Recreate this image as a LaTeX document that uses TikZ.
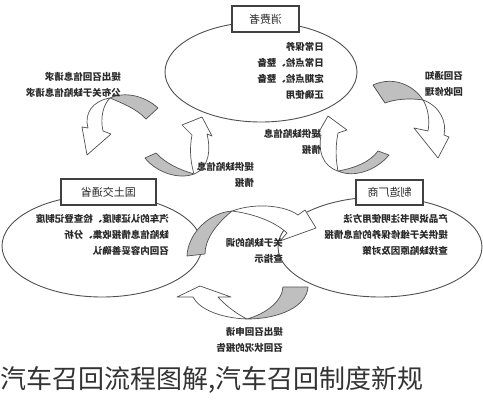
\documentclass[tikz,border=0pt]{standalone}
\usepackage{fontspec}
\newfontfamily\cjk{Noto Sans CJK SC}
\usetikzlibrary{shapes.geometric}
\definecolor{ln}{HTML}{505050}
\definecolor{bx}{HTML}{404040}
\definecolor{gf}{HTML}{BFBFBF}
\definecolor{tx}{HTML}{2A2A2A}
\definecolor{cp}{HTML}{333333}
\begin{document}
\begin{tikzpicture}[x=1pt,y=-1pt,
  every node/.style={inner sep=0pt},
  ell/.style={ellipse, draw=ln, line width=0.9pt, fill=white},
  box/.style={draw=bx, line width=1.1pt, fill=white, font=\cjk\fontsize{11}{13}\selectfont, text=tx},
  txt/.style={font=\cjk\bfseries\fontsize{9.5}{16}\selectfont, text=tx},
  back/.style={fill=gf, draw=ln, line width=0.7pt, line join=round},
  front/.style={fill=white, draw=ln, line width=0.7pt, line join=round}]
\fill[white] (0,0) rectangle (483,400);
\useasboundingbox (0,0) rectangle (483,400);

% ellipses
\node[ell, minimum width=192pt, minimum height=100pt] (ce) at (261,72) {};
\node[ell, minimum width=200pt, minimum height=102pt] (le) at (102,246) {};
\node[ell, minimum width=204pt, minimum height=100pt] (re) at (380,247) {};

% boxes
\node[box, minimum width=67pt, minimum height=26pt] (cb) at (265.5,19) {\reflectbox{消费者}};
\node[box, minimum width=95pt, minimum height=26pt] (lb) at (108.5,192) {\reflectbox{国土交通省}};
\node[box, minimum width=67pt, minimum height=25pt] (rb) at (389.5,192.5) {\reflectbox{制造厂商}};

% arrow 1 (left top)
\draw[back] (110,98) .. controls (125,91) and (145,96) .. (158,108) -- (146,119) .. controls (137,109) and (122,103) .. (110,98) -- cycle;
\draw[front] (110,98) .. controls (92,101) and (84,114) .. (88,128) -- (82,127) -- (87,155) -- (111,134) -- (103,131) .. controls (100,118) and (103,105) .. (110,98) -- cycle;
% arrow 2 (left middle)
\draw[back] (194,174) .. controls (178,180) and (156,172) .. (145,158) -- (156,153) .. controls (165,163) and (180,170) .. (194,174) -- cycle;
\draw[front] (194,174) .. controls (209,168) and (211,150) .. (207,134) -- (212,136) -- (202,117) -- (182,125) -- (192,135) .. controls (189,150) and (191,164) .. (194,174) -- cycle;
% arrow 3 (right top)
\draw[back] (373,85) .. controls (395,75) and (415,87) .. (423,100) .. controls (410,98) and (395,99) .. (385,103) -- cycle;
\draw[front] (423,100) .. controls (440,106) and (447,122) .. (444,135) -- (449,137) -- (438,158) -- (414,128) -- (428,131) .. controls (430,120) and (428,108) .. (423,100) -- cycle;
% arrow 4 (right middle)
\draw[back] (338,171) .. controls (353,178) and (376,171) .. (389,155) -- (378,151) .. controls (370,162) and (355,168) .. (338,171) -- cycle;
\draw[front] (338,171) .. controls (322,166) and (318,150) .. (321,135) -- (316,137) -- (328,116) -- (347,130) -- (338,133) .. controls (335,148) and (336,161) .. (338,171) -- cycle;
% arrow 5 (centre)
\draw[back] (187,256) .. controls (188,234) and (208,213) .. (232,211) .. controls (215,225) and (205,240) .. (205,254) -- cycle;
\draw[front] (232,211) .. controls (257,202) and (286,206) .. (298,215) -- (305,210) -- (316,228) -- (280,241) -- (287,233) .. controls (275,222) and (255,214) .. (232,211) -- cycle;
% arrow 6 (bottom)
\draw[back] (308,287) .. controls (307,306) and (280,319) .. (247,319) .. controls (265,314) and (282,302) .. (283,287) -- cycle;
\draw[front] (247,319) .. controls (220,318) and (199,309) .. (193,297) -- (177,297) -- (200,286) -- (231,297) -- (218,297) .. controls (224,304) and (235,313) .. (247,319) -- cycle;

% texts
\node[txt, anchor=east] (t1) at (324,71.5) {\reflectbox{\begin{tabular}{@{}l@{}}日常保养\\日常点检、整备\\定期点检、整备\\正确使用\end{tabular}}};
\node[txt, anchor=east] (t2) at (121,85) {\reflectbox{\begin{tabular}{@{}l@{}}提出召回信息请求\\公布关于缺陷信息请求\end{tabular}}};
\node[txt, anchor=east] (t3) at (463,84.5) {\reflectbox{\begin{tabular}{@{}l@{}}召回通知\\回收修理\end{tabular}}};
\node[txt, anchor=east] (t4) at (321,142.5) {\reflectbox{\begin{tabular}{@{}l@{}}提供缺陷信息\\情报\end{tabular}}};
\node[txt, anchor=east] (t5) at (254,175) {\reflectbox{\begin{tabular}{@{}l@{}}提供缺陷信息\\情报\end{tabular}}};
\node[txt, anchor=east] (t6) at (169,235.5) {\reflectbox{\begin{tabular}{@{}l@{}}汽车的认证制度、检查登记制度\\缺陷信息情报收集、分析\\召回内容妥善确认\end{tabular}}};
\node[txt, anchor=east] (t7) at (448,235.5) {\reflectbox{\begin{tabular}{@{}l@{}}产品说明书注明使用方法\\提供关于维修保养的信息情报\\查找缺陷原因及对策\end{tabular}}};
\node[txt, anchor=east] (t8) at (283,251) {\reflectbox{\begin{tabular}{@{}l@{}}关于缺陷的调\\查指示\end{tabular}}};
\node[txt, anchor=east] (t9) at (283,340.5) {\reflectbox{\begin{tabular}{@{}l@{}}提出召回申请\\召回状况的报告\end{tabular}}};

% caption
\node[anchor=west, font=\cjk\fontsize{26}{30}\selectfont, text=cp] (cap) at (0,380) {汽车召回流程图解,汽车召回制度新规};
\end{tikzpicture}
\end{document}
